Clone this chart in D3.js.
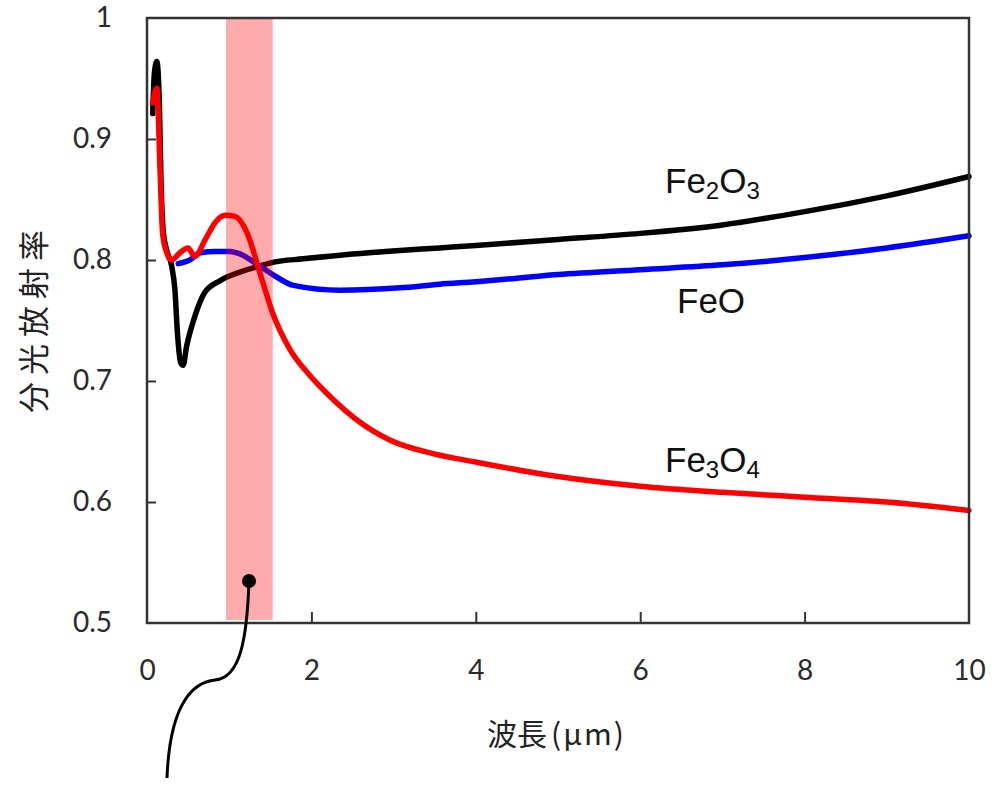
<!DOCTYPE html>
<html>
<head>
<meta charset="utf-8">
<script src="https://cdn.jsdelivr.net/npm/d3@7"></script>
<style>
	body { margin: 0; background: #fff; }
	svg { display: block; }
	.tick text { font-family: Lato, "Open Sans", sans-serif; font-size: 28px; fill: #2a2a2a; }
	.lbl { font-family: "Liberation Sans", Arial, sans-serif; font-size: 35px; fill: #111; }
	.title { font-family: "Noto Sans CJK JP", sans-serif; fill: #222; }
</style>
</head>
<body>
<div id="chart"></div>
<script>
// wavelength (µm) / emissivity pairs
const fe2o3X = [0.07, 0.09, 0.12, 0.15, 0.17, 0.2, 0.24, 0.3, 0.34, 0.37, 0.41, 0.44, 0.48, 0.58, 0.7, 0.89, 1.13, 1.37, 1.53, 1.9, 2.35, 2.9, 3.56, 4, 5, 6, 7, 8, 9, 10];
const fe2o3Y = [0.921, 0.955, 0.964, 0.93, 0.866, 0.822, 0.808, 0.795, 0.775, 0.74, 0.715, 0.713, 0.728, 0.753, 0.773, 0.783, 0.79, 0.795, 0.798, 0.801, 0.804, 0.807, 0.81, 0.812, 0.817, 0.822, 0.829, 0.84, 0.853, 0.869];

const feoX = [0.38, 0.52, 0.65, 0.83, 1.01, 1.13, 1.37, 1.53, 1.78, 2.35, 3.08, 3.56, 4, 5, 6, 7, 8, 9, 10];
const feoY = [0.797, 0.8, 0.806, 0.807, 0.807, 0.805, 0.795, 0.788, 0.779, 0.775, 0.777, 0.78, 0.782, 0.788, 0.792, 0.796, 0.802, 0.81, 0.82];

const fe3o4X = [0.07, 0.12, 0.16, 0.19, 0.24, 0.3, 0.4, 0.5, 0.58, 0.71, 0.83, 0.95, 1.07, 1.22, 1.375, 1.53, 1.74, 1.95, 2.23, 2.55, 2.96, 3.48, 4, 5, 6, 7, 8, 9, 10];
const fe3o4Y = [0.93, 0.942, 0.872, 0.822, 0.806, 0.8, 0.806, 0.81, 0.803, 0.817, 0.831, 0.837, 0.836, 0.822, 0.789, 0.756, 0.726, 0.707, 0.687, 0.668, 0.651, 0.64, 0.633, 0.621, 0.613, 0.608, 0.604, 0.6, 0.593];

const band = [0.96, 1.53];
const xTicks = [0, 2, 4, 6, 8, 10];
const yTicks = [0.5, 0.6, 0.7, 0.8, 0.9, 1];

const width = 999, height = 786;
const plotL = 147, plotR = 969, plotT = 18, plotB = 623;

const svg = d3.select("#chart").append("svg")
	.attr("width", width)
	.attr("height", height);

const x = d3.scaleLinear().domain([0, 10]).range([plotL, plotR]);
const y = d3.scaleLinear().domain([0.5, 1]).range([plotB, plotT]);

// axes with inward ticks
const xAxis = d3.axisBottom(x).tickValues(xTicks).tickSize(-11).tickPadding(37).tickFormat(d3.format("d"));
const yAxis = d3.axisLeft(y).tickValues(yTicks).tickSize(-9).tickPadding(35).tickFormat(d => d === 1 ? "1" : d3.format(".1f")(d));

const gx = svg.append("g").attr("transform", "translate(0," + plotB + ")").call(xAxis);
const gy = svg.append("g").attr("transform", "translate(" + plotL + ",0)").call(yAxis);
[gx, gy].forEach(g => {
	g.select(".domain").remove();
	g.selectAll(".tick line").attr("stroke", "#333").attr("stroke-width", 2);
});
gx.selectAll(".tick").filter(d => d === 0 || d === 10).select("line").remove();
gy.selectAll(".tick").filter(d => d === 0.5 || d === 1).select("line").remove();

const line = d3.line().x(d => x(d[0])).y(d => y(d[1])).curve(d3.curveMonotoneX);

function draw(xs, ys, color) {
	svg.append("path")
		.attr("d", line(d3.zip(xs, ys)))
		.attr("fill", "none")
		.attr("stroke", color)
		.attr("stroke-width", 5.5)
		.attr("stroke-linejoin", "round")
		.attr("stroke-linecap", "round");
}
draw(fe2o3X, fe2o3Y, "#000");
draw(feoX, feoY, "#0000ff");
draw(fe3o4X, fe3o4Y, "#ff0000");

// highlighted band, drawn over the curves
svg.append("rect")
	.attr("x", x(band[0]))
	.attr("y", y(1))
	.attr("width", x(band[1]) - x(band[0]))
	.attr("height", y(0.5) - y(1) - 3)
	.attr("fill", "#ff0000")
	.attr("fill-opacity", 0.33);

// frame
svg.append("rect")
	.attr("x", plotL).attr("y", plotT)
	.attr("width", plotR - plotL).attr("height", plotB - plotT)
	.attr("fill", "none").attr("stroke", "#333").attr("stroke-width", 2.5);

// series labels, [text, subscript?]
function label(px, py, parts) {
	const t = svg.append("text").attr("class", "lbl").attr("x", px).attr("y", py);
	let sub = false;
	parts.forEach(p => {
		const s = t.append("tspan").text(p[0]);
		if (p[1] && !sub) s.attr("dy", 6);
		if (!p[1] && sub) s.attr("dy", -6);
		if (p[1]) s.attr("font-size", "24px");
		sub = p[1];
	});
}
label(665, 193, [["Fe"], ["2", true], ["O"], ["3", true]]);
label(677, 313, [["FeO"]]);
label(665, 472, [["Fe"], ["3", true], ["O"], ["4", true]]);

// axis titles
const xt = svg.append("text").attr("class", "title")
	.attr("x", 487).attr("y", 745)
	.attr("font-size", "30px");
xt.append("tspan").text("波長");
xt.append("tspan").attr("dx", 4).text("(μm)").attr("letter-spacing", "2px");
svg.append("text").attr("class", "title")
	.attr("transform", "translate(45,318) rotate(-90)")
	.attr("text-anchor", "middle")
	.attr("font-size", "31px")
	.attr("letter-spacing", "7px")
	.text("分光放射率");

// callout marker
svg.append("circle").attr("cx", 249).attr("cy", 581).attr("r", 7).attr("fill", "#000");
svg.append("path")
	.attr("d", "M249,581 C247,640 240,678 215,680 C195,682 170,700 167,778")
	.attr("fill", "none").attr("stroke", "#000").attr("stroke-width", 3);
</script>
</body>
</html>
